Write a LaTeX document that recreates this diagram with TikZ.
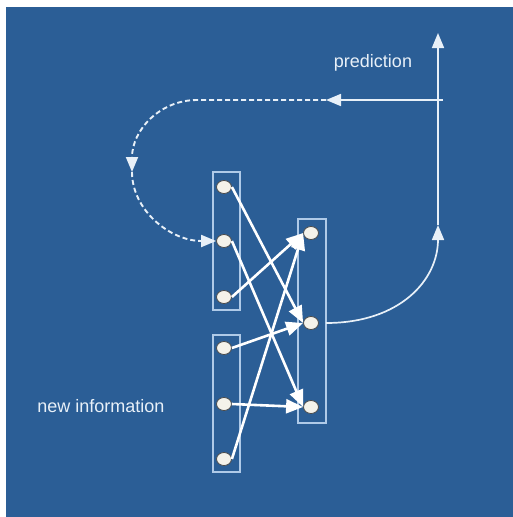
\documentclass[tikz,border=0pt]{standalone}
\usepackage{fontspec}
\setmainfont{Liberation Sans}
\usetikzlibrary{arrows.meta,shapes.geometric}
\definecolor{bgblue}{RGB}{43,94,150}
\definecolor{boxline}{RGB}{175,202,232}
\definecolor{txt}{RGB}{232,240,248}
\definecolor{dotfill}{RGB}{244,242,234}
\begin{document}
\begin{tikzpicture}[x=1pt,y=-1pt,
  unit/.style={ellipse,draw=gray!60!black,line width=0.8pt,fill=dotfill,minimum width=15pt,minimum height=13pt,inner sep=0pt},
  layer/.style={draw=boxline,line width=1.2pt},
  conn/.style={draw=white,line width=2.6pt,-{Triangle[length=17pt,width=14pt]}},
  fb/.style={draw=txt,line width=1.7pt},
  fbdash/.style={draw=txt,line width=1.9pt,dash pattern=on 5pt off 3pt},
  tip/.style={-{Triangle[length=15pt,width=12pt]}},
  lbl/.style={text=txt,font=\fontsize{18}{20}\selectfont,inner sep=0pt}]
\useasboundingbox (0,0) rectangle (513,517);
\fill[white] (0,0) rectangle (513,517);
\fill[bgblue] (6,7) rectangle (513,517);
% layer boxes
\draw[layer] (213,172) rectangle (240,310);
\draw[layer] (213,335) rectangle (240,472);
\draw[layer] (298,219) rectangle (326,423);
% units
\node[unit] (l1) at (224,187) {};
\node[unit] (l2) at (224,241) {};
\node[unit] (l3) at (224,297) {};
\node[unit] (l4) at (224,348) {};
\node[unit] (l5) at (224,404) {};
\node[unit] (l6) at (224,459) {};
\node[unit] (r1) at (311,233) {};
\node[unit] (r2) at (311,323) {};
\node[unit] (r3) at (311,407) {};
% connections
\draw[conn] (l1.east) -- (r2.west);
\draw[conn] (l2.east) -- (r3.west);
\draw[conn] (l3.east) -- (r1.west);
\draw[conn] (l4.east) -- (r2.west);
\draw[conn] (l5.east) -- (r3.west);
\draw[conn] (l6.east) -- (r1.west);
% feedback path
\coordinate (out) at (326,323);
\coordinate (up) at (438,225);
\coordinate (top) at (438,33);
\coordinate (hr) at (443,100);
\coordinate (hl) at (326,100);
\coordinate (bend) at (197,100);
\coordinate (mid) at (132,172);
\draw[fb,tip] (out) .. controls (400,323) and (438,280) .. (up);
\draw[fb,tip] (up) -- (top);
\draw[fb,tip] (hr) -- (hl);
\draw[fbdash,tip] (hl) -- (bend) .. controls (160,100) and (132,130) .. (mid);
\draw[fbdash,tip] (mid) .. controls (132,210) and (170,241) .. (l2.west);
% labels
\node[lbl] (pred) at (373,63) {prediction};
\node[lbl] (newinfo) at (101,406) {new information};
\end{tikzpicture}
\end{document}
